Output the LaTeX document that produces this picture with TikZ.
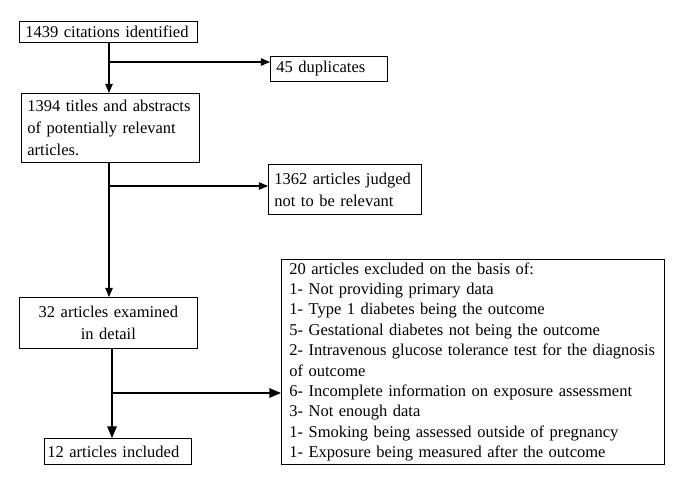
\documentclass[tikz,border=0pt]{standalone}
\usepackage{fontspec}
\setmainfont{Liberation Serif}
\usetikzlibrary{arrows}

\begin{document}
\begin{tikzpicture}[x=1pt,y=-1pt,
  box/.style={draw, line width=0.7pt, anchor=north west, align=left,
    inner xsep=6pt, inner ysep=0pt, font=\fontsize{16.5}{22}\selectfont},
  flow/.style={line width=1.1pt, -triangle 45},
  bigflow/.style={line width=1.7pt, -triangle 45}]
 \useasboundingbox (0,0) rectangle (685,483);
 \node[box, text width=166pt, minimum height=21pt] (cit) at (19,21) {1439 citations identified};
 \node[box, text width=105pt, minimum height=25pt] (dup) at (270,56) {45 duplicates};
 \node[box, text width=166pt, minimum height=69pt] (tit) at (21,93) {1394 titles and abstracts\\of potentially relevant\\articles.};
 \node[box, text width=141pt, minimum height=50pt] (rel) at (268,164) {1362 articles judged\\not to be relevant};
 \node[box, text width=166pt, minimum height=51pt, align=center] (exam) at (19,297) {32 articles examined\\in detail};
 \node[box, text width=141pt, minimum height=26pt, inner xsep=3pt] (inc) at (44,438) {12 articles included};
 \node[box, text width=367pt, minimum height=205pt, inner xsep=8pt, font=\fontsize{16.5}{20.4}\selectfont] (exc) at (281,259) {20 articles excluded on the basis of:\\
  1- Not providing primary data\\
  1- Type 1 diabetes being the outcome\\
  5- Gestational diabetes not being the outcome\\
  2- Intravenous glucose tolerance test for the diagnosis\\
  of outcome\\
  6- Incomplete information on exposure assessment\\
  3- Not enough data\\
  1- Smoking being assessed outside of pregnancy\\
  1- Exposure being measured after the outcome};
 % branch points on the main line
 \coordinate (b1) at (109,62);
 \coordinate (b2) at (109,186);
 \coordinate (b3) at (112,393);
 \draw[flow] (cit.south -| b1) -- (tit.north -| b1);
 \draw[flow] (b1) -- (dup.west |- b1);
 \draw[flow] (tit.south -| b2) -- (exam.north -| b2);
 \draw[flow] (b2) -- (rel.west |- b2);
 \draw[bigflow] (exam.south -| b3) -- (inc.north -| b3);
 \draw[bigflow] (b3) -- (exc.west |- b3);
\end{tikzpicture}
\end{document}
